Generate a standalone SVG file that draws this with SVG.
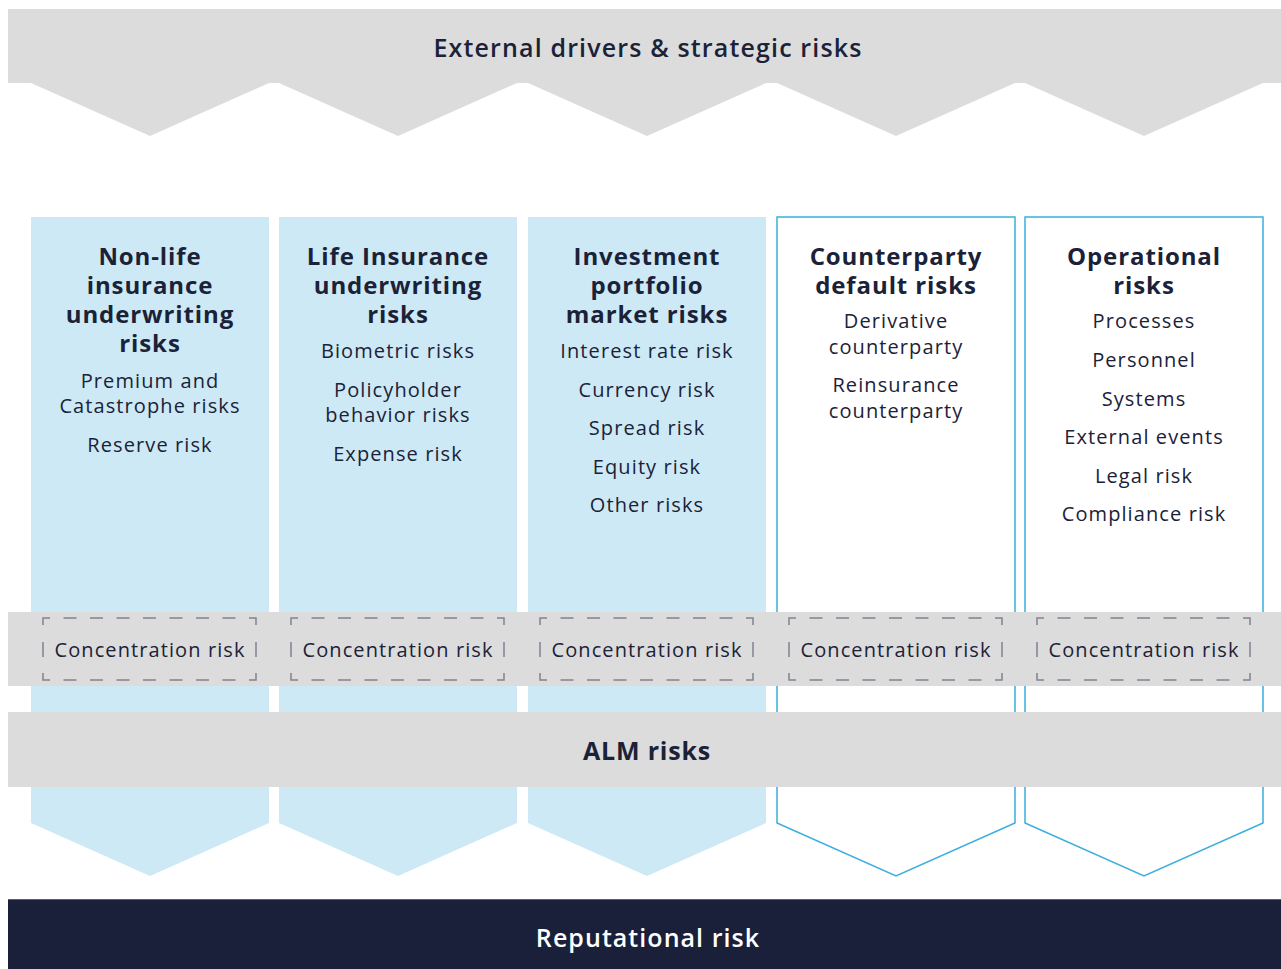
<svg xmlns="http://www.w3.org/2000/svg" width="1281" height="969" viewBox="0 0 1281 969">
<style>
.t{font-family:"Open Sans","Liberation Sans",sans-serif;fill:#1b2238;text-anchor:middle;dominant-baseline:central}
.h{font-size:24px;font-weight:700;letter-spacing:0.9px}
.b{font-size:20px;letter-spacing:1.1px}
.band{fill:#dcdcdc}
.fill{fill:#cde9f5}
.out{fill:#ffffff;stroke:#3aaee0;stroke-width:1.5}
.dh{stroke:#80838f;stroke-width:1.5;fill:none;stroke-dasharray:13 13.5;stroke-dashoffset:13}
.dc{stroke:#80838f;stroke-width:1.5;fill:none}
</style>
<rect width="1281" height="969" fill="#ffffff"/>
<g id="columns">
<g id="col1"><path class="fill" d="M31 217H269V823L150 876L31 823Z"/></g>
<g id="col2"><path class="fill" d="M279 217H517V823L398 876L279 823Z"/></g>
<g id="col3"><path class="fill" d="M528 217H766V823L647 876L528 823Z"/></g>
<g id="col4"><path class="out" d="M777 217H1015V823L896 876L777 823Z"/></g>
<g id="col5"><path class="out" d="M1025 217H1263V823L1144 876L1025 823Z"/></g>
</g>
<g id="external">
<path class="band" d="M8 9H1281V83H1263L1144 136L1025 83H1015L896 136L777 83H766L647 136L528 83H517L398 136L279 83H269L150 136L31 83H8Z"/>
<text class="t" x="648" y="47" style="font-size:25px;font-weight:600;letter-spacing:1.15px">External drivers &amp; strategic risks</text>
</g>
<g id="col1-text">
<text class="t h" x="150" y="255">Non-life</text>
<text class="t h" x="150" y="284">insurance</text>
<text class="t h" x="150" y="313">underwriting</text>
<text class="t h" x="150" y="342">risks</text>
<text class="t b" x="150" y="380">Premium and</text>
<text class="t b" x="150" y="405">Catastrophe risks</text>
<text class="t b" x="150" y="444">Reserve risk</text>
</g>
<g id="col2-text">
<text class="t h" x="398" y="255">Life Insurance</text>
<text class="t h" x="398" y="284">underwriting</text>
<text class="t h" x="398" y="313">risks</text>
<text class="t b" x="398" y="350">Biometric risks</text>
<text class="t b" x="398" y="389">Policyholder</text>
<text class="t b" x="398" y="414">behavior risks</text>
<text class="t b" x="398" y="453">Expense risk</text>
</g>
<g id="col3-text">
<text class="t h" x="647" y="255">Investment</text>
<text class="t h" x="647" y="284">portfolio</text>
<text class="t h" x="647" y="313">market risks</text>
<text class="t b" x="647" y="350">Interest rate risk</text>
<text class="t b" x="647" y="389">Currency risk</text>
<text class="t b" x="647" y="427">Spread risk</text>
<text class="t b" x="647" y="466">Equity risk</text>
<text class="t b" x="647" y="504">Other risks</text>
</g>
<g id="col4-text">
<text class="t h" x="896" y="255">Counterparty</text>
<text class="t h" x="896" y="284">default risks</text>
<text class="t b" x="896" y="320">Derivative</text>
<text class="t b" x="896" y="346">counterparty</text>
<text class="t b" x="896" y="384">Reinsurance</text>
<text class="t b" x="896" y="410">counterparty</text>
</g>
<g id="col5-text">
<text class="t h" x="1144" y="255">Operational</text>
<text class="t h" x="1144" y="284">risks</text>
<text class="t b" x="1144" y="320">Processes</text>
<text class="t b" x="1144" y="359">Personnel</text>
<text class="t b" x="1144" y="398">Systems</text>
<text class="t b" x="1144" y="436">External events</text>
<text class="t b" x="1144" y="475">Legal risk</text>
<text class="t b" x="1144" y="513">Compliance risk</text>
</g>
<g id="concentration">
<rect class="band" x="8" y="612" width="1273" height="74"/>
<g id="conc1">
<path class="dc" d="M43 625V618H50M249 618H256V625M256 673V680H249M50 680H43V673M43 642V657M256 642V657"/>
<path class="dh" d="M50 618H249M50 680H249"/>
<text class="t b" x="150" y="649">Concentration risk</text>
</g>
<g id="conc2">
<path class="dc" d="M291 625V618H298M497 618H504V625M504 673V680H497M298 680H291V673M291 642V657M504 642V657"/>
<path class="dh" d="M298 618H497M298 680H497"/>
<text class="t b" x="398" y="649">Concentration risk</text>
</g>
<g id="conc3">
<path class="dc" d="M540 625V618H547M746 618H753V625M753 673V680H746M547 680H540V673M540 642V657M753 642V657"/>
<path class="dh" d="M547 618H746M547 680H746"/>
<text class="t b" x="647" y="649">Concentration risk</text>
</g>
<g id="conc4">
<path class="dc" d="M789 625V618H796M995 618H1002V625M1002 673V680H995M796 680H789V673M789 642V657M1002 642V657"/>
<path class="dh" d="M796 618H995M796 680H995"/>
<text class="t b" x="896" y="649">Concentration risk</text>
</g>
<g id="conc5">
<path class="dc" d="M1037 625V618H1044M1243 618H1250V625M1250 673V680H1243M1044 680H1037V673M1037 642V657M1250 642V657"/>
<path class="dh" d="M1044 618H1243M1044 680H1243"/>
<text class="t b" x="1144" y="649">Concentration risk</text>
</g>
</g>
<g id="alm">
<rect class="band" x="8" y="712" width="1273" height="75"/>
<text class="t" x="647" y="750" style="font-size:25px;font-weight:700;letter-spacing:0.8px">ALM risks</text>
</g>
<g id="reputational">
<rect x="8" y="899" width="1273" height="70" fill="#1a2039"/>
<line x1="8" y1="899.5" x2="1281" y2="899.5" stroke="#5a6070" stroke-width="1"/>
<text class="t" x="648" y="937" style="font-size:25px;font-weight:600;fill:#ffffff;letter-spacing:1.05px">Reputational risk</text>
</g>
</svg>
